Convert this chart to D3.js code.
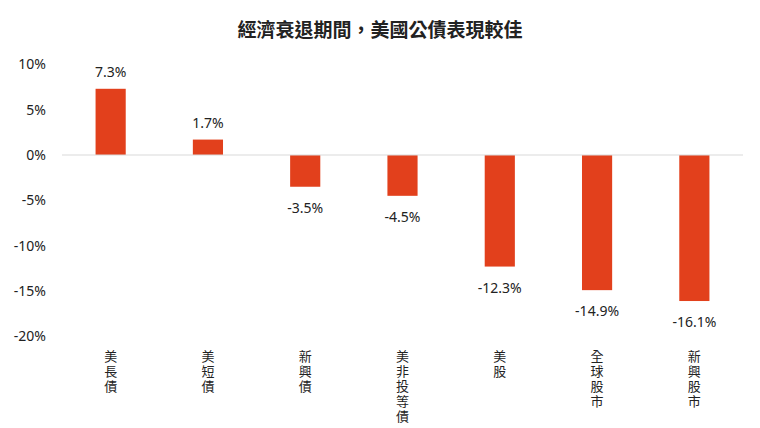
<!DOCTYPE html>
<html lang="zh-Hant">
<head>
<meta charset="utf-8">
<script src="https://cdn.jsdelivr.net/npm/d3@7"></script>
<style>
  body { margin: 0; background: #fff; }
  svg { display: block; font-family: "Noto Sans", "Noto Sans CJK TC", sans-serif; }
</style>
</head>
<body>
<svg lang="zh-Hant"></svg>
<script>
// данные
const categories = ["美長債", "美短債", "新興債", "美非投等債", "美股", "全球股市", "新興股市"];
const values = [7.3, 1.7, -3.5, -4.5, -12.3, -14.9, -16.1];
const yTicks = [10, 5, 0, -5, -10, -15, -20];
const title = "經濟衰退期間，美國公債表現較佳";

const width = 760;
const height = 428;
let svg = d3.select("svg")
  .attr("width", width)
  .attr("height", height);

const x = d3.scaleBand()
  .domain(categories)
  .range([62, 743])
  .paddingInner(0.69)
  .paddingOuter(0.345);

const y = d3.scaleLinear()
  .domain([-20, 10])
  .range([336.4, 64.3]);

// заголовок
svg.append("text")
  .attr("x", 380)
  .attr("y", 37)
  .attr("text-anchor", "middle")
  .attr("xml:lang", "zh-Hant")
  .style("font-family", "'Noto Sans CJK TC', sans-serif")
  .style("font-feature-settings", "'locl' 1")
  .style("font-size", "19px")
  .style("font-weight", "bold")
  .style("fill", "#222")
  .text(title);

// ось Y
let yAxis = svg.append("g")
  .attr("transform", "translate(50,0)")
  .call(d3.axisLeft(y).tickValues(yTicks).tickSize(0).tickPadding(4).tickFormat(d => d + "%"));
yAxis.select(".domain").remove();
yAxis.selectAll("text")
  .style("font-family", "'Noto Sans', sans-serif")
  .style("font-size", "14px")
  .style("fill", "#222");

// столбики
svg.selectAll("rect.bar")
  .data(values)
  .join("rect")
  .attr("class", "bar")
  .attr("x", (d, i) => x(categories[i]))
  .attr("width", x.bandwidth())
  .attr("y", d => y(Math.max(0, d)))
  .attr("height", d => Math.abs(y(d) - y(0)))
  .style("fill", "#e2401c");

// нулевая линия
svg.append("line")
  .attr("x1", 62)
  .attr("x2", 743)
  .attr("y1", y(0))
  .attr("y2", y(0))
  .style("stroke", "#d9d9d9")
  .style("stroke-width", 1);

// подписи значений
svg.selectAll("text.val")
  .data(values)
  .join("text")
  .attr("class", "val")
  .attr("x", (d, i) => x(categories[i]) + x.bandwidth() / 2)
  .attr("y", d => d >= 0 ? y(d) - 12 : y(d) + 26)
  .attr("text-anchor", "middle")
  .style("font-size", "14px")
  .style("fill", "#222")
  .text(d => d.toFixed(1) + "%");

// вертикальные подписи категорий
svg.selectAll("text.cat")
  .data(categories)
  .join("text")
  .attr("class", "cat")
  .attr("x", c => x(c) + x.bandwidth() / 2)
  .attr("y", 350)
  .style("writing-mode", "vertical-rl")
  .style("font-family", "'Noto Sans CJK TC', sans-serif")
  .style("font-size", "13px")
  .style("letter-spacing", "2px")
  .style("fill", "#222")
  .text(c => c);
</script>
</body>
</html>
